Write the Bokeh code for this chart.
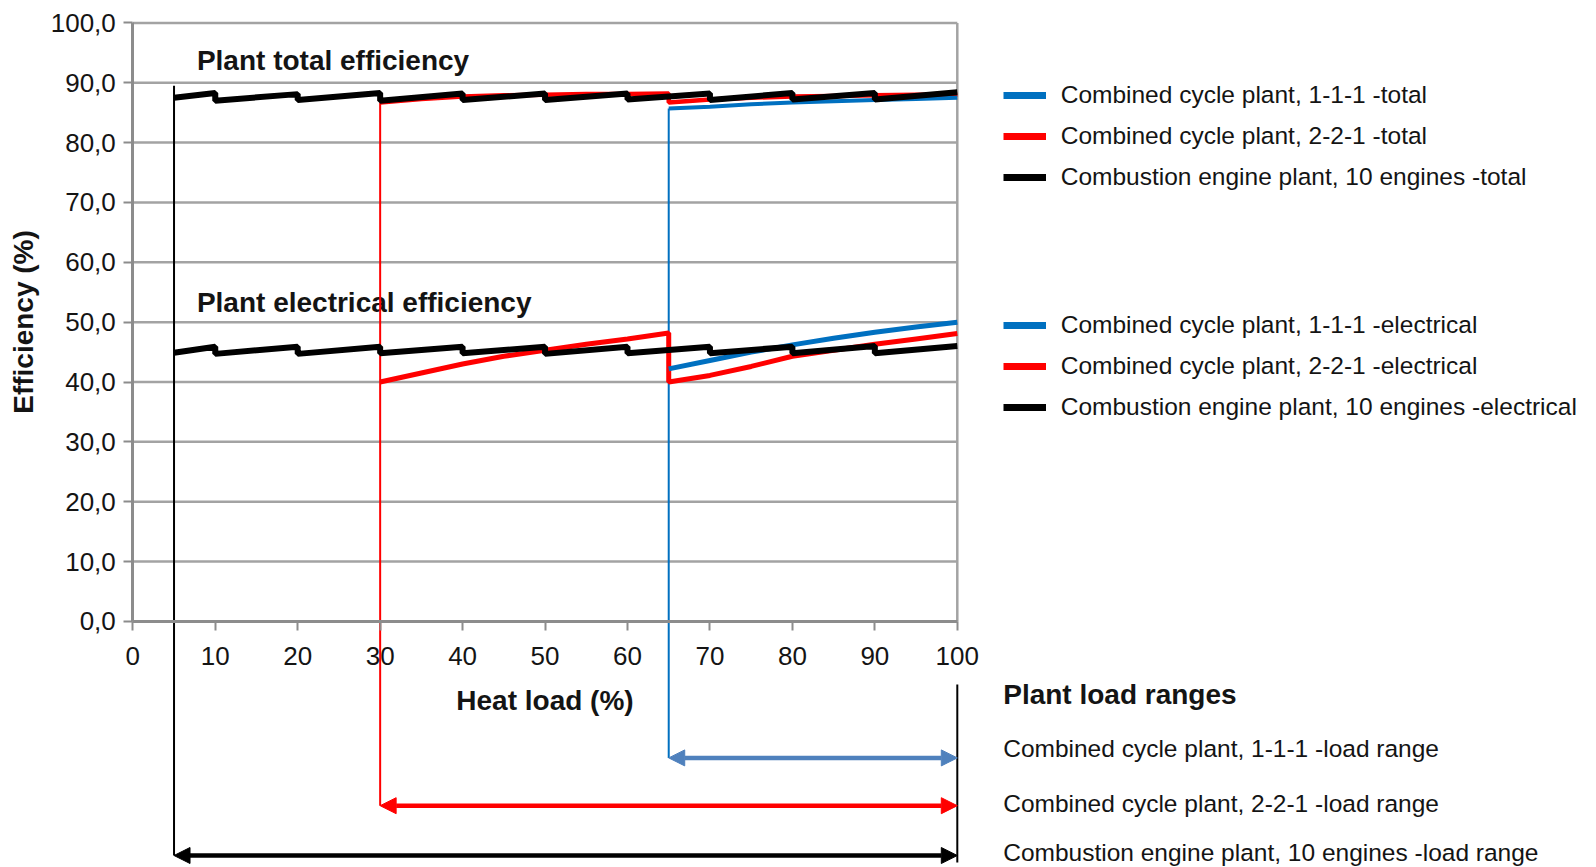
from bokeh.plotting import figure
from bokeh.models import (Range1d, LinearAxis, FixedTicker, Legend, LegendItem,
                          Label, Arrow, NormalHead)
from bokeh.embed import file_html
from bokeh.resources import INLINE
from bokeh.core.properties import value

# ---------------- data ----------------
x_ticks = [0, 10, 20, 30, 40, 50, 60, 70, 80, 90, 100]
x_tick_labels = ["0", "10", "20", "30", "40", "50", "60", "70", "80", "90", "100"]
y_ticks = [0, 10, 20, 30, 40, 50, 60, 70, 80, 90, 100]
y_tick_labels = ["0,0", "10,0", "20,0", "30,0", "40,0", "50,0", "60,0",
                 "70,0", "80,0", "90,0", "100,0"]

# Combustion engine plant, 10 engines (sawtooth: one engine step every 10 %)
ce_x = [5, 10, 10, 20, 20, 30, 30, 40, 40, 50, 50, 60, 60, 70, 70, 80, 80, 90, 90, 100]
ce_total = [87.5, 88.3, 87.0, 88.1, 87.1, 88.3, 87.0, 88.2, 87.1, 88.2,
            87.1, 88.2, 87.2, 88.2, 87.1, 88.3, 87.2, 88.3, 87.2, 88.4]
ce_elec = [44.9, 45.9, 44.7, 45.9, 44.7, 45.9, 44.8, 45.9, 44.8, 45.9,
           44.7, 45.9, 44.8, 45.9, 44.8, 45.9, 44.8, 46.0, 44.8, 46.0]

# Combined cycle plant, 2-2-1
cc221_x = [30, 35, 40, 45, 50, 55, 60, 65, 65, 70, 75, 80, 85, 90, 95, 100]
cc221_total = [86.7, 87.3, 87.7, 87.9, 88.0, 88.1, 88.1, 88.2,
               86.7, 87.2, 87.5, 87.7, 87.8, 87.9, 88.0, 88.0]
cc221_elec = [40.0, 41.5, 43.0, 44.3, 45.3, 46.3, 47.2, 48.2,
              40.0, 41.1, 42.6, 44.3, 45.3, 46.3, 47.2, 48.1]

# Combined cycle plant, 1-1-1
cc111_x = [65, 70, 75, 80, 85, 90, 95, 100]
cc111_total = [85.7, 86.0, 86.4, 86.7, 86.9, 87.1, 87.3, 87.5]
cc111_elec = [42.2, 43.6, 45.0, 46.2, 47.3, 48.3, 49.2, 50.0]

total_labels = ["Combined cycle plant, 1-1-1 -total",
                "Combined cycle plant, 2-2-1 -total",
                "Combustion engine plant, 10 engines -total"]
elec_labels = ["Combined cycle plant, 1-1-1 -electrical",
               "Combined cycle plant, 2-2-1 -electrical",
               "Combustion engine plant, 10 engines -electrical"]

range_heading = "Plant  load ranges"
range_labels = ["Combined cycle plant, 1-1-1 -load range",
                "Combined cycle plant, 2-2-1 -load range",
                "Combustion engine plant, 10 engines -load range"]
range_start = [65, 30, 5]
range_end = [100, 100, 100]
range_top = [cc111_total[0], cc221_total[0], ce_total[0] + 2.0]

# ---------------- layout / styles ----------------
W, H = 1596, 867
PX0, PXS = 132.3, 8.245     # canvas x of heat load 0, px per %
PY0, PYS = 620.9, 5.985     # canvas y of efficiency 0, px per %


def dx(px):
    return (px - PX0) / PXS


def dy(py):
    return (PY0 - py) / PYS


FONT = "Liberation Sans"
BLUE = "#0070c0"
RED = "#ff0000"
BLACK = "#000000"
ARROW_BLUE = "#4f81bd"
GRID = "#a3a3a3"
AXIS = "#8c8c8c"
TEXT = "#141414"
series_colors = [BLUE, RED, BLACK]
arrow_colors = [ARROW_BLUE, RED, BLACK]
vline_colors = [BLUE, RED, BLACK]

p = figure(width=W, height=H, output_backend="svg", toolbar_location=None,
           x_range=Range1d(dx(0), dx(W)), y_range=Range1d(dy(H), dy(0)),
           x_axis_type=None, y_axis_type=None, min_border=0,
           background_fill_color="white", border_fill_color="white")
p.outline_line_color = None

# axes (fixed at 0 and bounded to the plotted range)
xaxis = LinearAxis(fixed_location=0, bounds=(x_ticks[0], x_ticks[-1]),
                   ticker=FixedTicker(ticks=x_ticks, minor_ticks=[]),
                   major_label_overrides=dict(zip(x_ticks, x_tick_labels)),
                   axis_label="Heat load (%)")
yaxis = LinearAxis(fixed_location=0, bounds=(y_ticks[0], y_ticks[-1]),
                   ticker=FixedTicker(ticks=y_ticks, minor_ticks=[]),
                   major_label_overrides=dict(zip(y_ticks, y_tick_labels)),
                   axis_label="Efficiency (%)")
for ax in (xaxis, yaxis):
    ax.axis_line_color = AXIS
    ax.axis_line_width = 3
    ax.major_tick_line_color = AXIS
    ax.major_tick_line_width = 2
    ax.major_tick_in = 0
    ax.major_tick_out = 9
    ax.minor_tick_in = 0
    ax.minor_tick_out = 0
    ax.major_label_text_font = FONT
    ax.major_label_text_font_size = "26px"
    ax.major_label_text_color = TEXT
    ax.axis_label_text_font = FONT
    ax.axis_label_text_font_size = "28px"
    ax.axis_label_text_font_style = "bold"
    ax.axis_label_text_color = TEXT
xaxis.major_label_standoff = 17
xaxis.axis_label_standoff = 16
yaxis.major_label_standoff = 8
yaxis.axis_label_standoff = 8
p.add_layout(xaxis, "below")
p.add_layout(yaxis, "left")

# horizontal gridlines and right frame border
grid_y = y_ticks[1:]
p.segment(x0=[x_ticks[0]] * len(grid_y), x1=[x_ticks[-1]] * len(grid_y),
          y0=grid_y, y1=grid_y, line_color=GRID, line_width=2.5)
p.segment(x0=[x_ticks[-1]], x1=[x_ticks[-1]], y0=[y_ticks[0]], y1=[y_ticks[-1]],
          line_color=GRID, line_width=2.5)

# in-plot titles (drawn under the lines)
p.text(x=[dx(196.4), dx(196.4)], y=[dy(60.0), dy(301.5)],
       text=["Plant total efficiency", "Plant electrical efficiency"],
       text_font=value(FONT), text_font_size="28px", text_font_style="bold",
       text_color=TEXT, text_baseline="middle", text_align="left")

# load range vertical lines and arrows
arrow_y = [dy(757.4), dy(805.2), dy(855.0)]
p.segment(x0=range_start, x1=range_start, y0=range_top, y1=arrow_y,
          line_color=vline_colors, line_width=2)
p.segment(x0=[range_end[0]], x1=[range_end[0]], y0=[dy(684)], y1=[dy(862)],
          line_color=BLACK, line_width=2)
for xs, xe, yv, c in zip(range_start, range_end, arrow_y, arrow_colors):
    p.add_layout(Arrow(start=NormalHead(size=16, fill_color=c, line_color=c),
                       end=NormalHead(size=16, fill_color=c, line_color=c),
                       x_start=xs, y_start=yv, x_end=xe, y_end=yv,
                       line_color=c, line_width=4.5))

# efficiency series
r_221_t = p.line(cc221_x, cc221_total, line_color=RED, line_width=4.5)
r_221_e = p.line(cc221_x, cc221_elec, line_color=RED, line_width=5)
r_111_t = p.line(cc111_x, cc111_total, line_color=BLUE, line_width=4)
r_111_e = p.line(cc111_x, cc111_elec, line_color=BLUE, line_width=5)
r_ce_t = p.line(ce_x, ce_total, line_color=BLACK, line_width=6)
r_ce_e = p.line(ce_x, ce_elec, line_color=BLACK, line_width=6)

# legend swatches (thicker, like the reference); a single point draws nothing
sw = [p.line([x_ticks[0]], [y_ticks[0]], line_color=c, line_width=7)
      for c in series_colors]


def make_legend(labels, top_px):
    n = len(labels)
    item_h, spacing = 30, 11
    height = n * item_h + (n - 1) * spacing
    leg = Legend(items=[LegendItem(label=l, renderers=[r]) for l, r in zip(labels, sw)],
                 location=(1002.7, H - (top_px + height)),
                 orientation="vertical", padding=0, margin=0, spacing=spacing,
                 glyph_width=43, glyph_height=item_h, label_height=item_h,
                 label_standoff=15, label_text_font=FONT,
                 label_text_font_size="24.5px", label_text_color=TEXT,
                 border_line_color=None, background_fill_alpha=0)
    return leg


p.add_layout(make_legend(total_labels, 79.7))
p.add_layout(make_legend(elec_labels, 309.7))

# load range captions
p.add_layout(Label(x=dx(1002.7), y=dy(694.2), text=range_heading,
                   text_font=FONT, text_font_size="28px", text_font_style="bold",
                   text_color=TEXT, text_baseline="middle"))
for lbl, py in zip(range_labels, [748.2, 803.1, 852.0]):
    p.add_layout(Label(x=dx(1002.7), y=dy(py), text=lbl, text_font=FONT,
                       text_font_size="24.5px", text_color=TEXT,
                       text_baseline="middle"))

open("out.html", "w").write(file_html(p, INLINE))
